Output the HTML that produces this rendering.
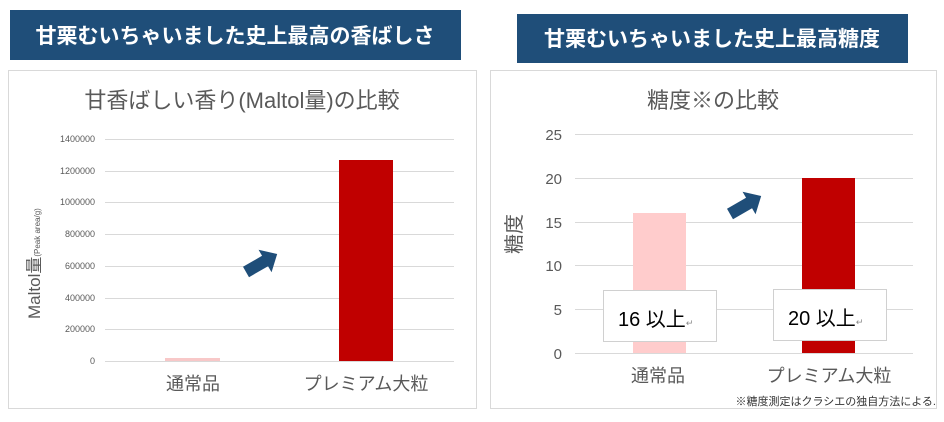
<!DOCTYPE html>
<html><head><meta charset="utf-8"><style>
body{margin:0;width:944px;height:417px;background:#fff;overflow:hidden;font-family:"Liberation Sans","Noto Sans CJK JP",sans-serif;}
</style></head><body>
<svg width="944" height="417" xmlns="http://www.w3.org/2000/svg" font-family="Liberation Sans, Noto Sans CJK JP, sans-serif">
<rect x="10" y="10" width="451" height="50" fill="#1f4e79"/>
<text x="235" y="43" font-size="21" fill="#fff" text-anchor="middle" font-weight="bold">甘栗むいちゃいました史上最高の香ばしさ</text>
<rect x="517" y="14" width="391" height="49" fill="#1f4e79"/>
<text x="712" y="46" font-size="21" fill="#fff" text-anchor="middle" font-weight="bold">甘栗むいちゃいました史上最高糖度</text>

<rect x="8.5" y="70.5" width="468" height="338" fill="#fff" stroke="#d9d9d9"/>
<rect x="490.5" y="70.5" width="446" height="338" fill="#fff" stroke="#d9d9d9"/>

<!-- left chart -->
<text x="242" y="108" font-size="22" fill="#595959" text-anchor="middle">甘香ばしい香り(Maltol量)の比較</text>
<g stroke="#d9d9d9" stroke-width="1">
<line x1="105" x2="454" y1="139.5" y2="139.5"/><line x1="105" x2="454" y1="171.5" y2="171.5"/>
<line x1="105" x2="454" y1="202.5" y2="202.5"/><line x1="105" x2="454" y1="234.5" y2="234.5"/>
<line x1="105" x2="454" y1="266.5" y2="266.5"/><line x1="105" x2="454" y1="298.5" y2="298.5"/>
<line x1="105" x2="454" y1="329.5" y2="329.5"/><line x1="105" x2="454" y1="361.5" y2="361.5"/>
</g>
<g font-size="9" fill="#595959" text-anchor="end">
<text x="95" y="142">1400000</text><text x="95" y="174">1200000</text><text x="95" y="205">1000000</text>
<text x="95" y="237">800000</text><text x="95" y="269">600000</text><text x="95" y="301">400000</text>
<text x="95" y="332">200000</text><text x="95" y="364">0</text></g>
<rect x="165" y="358" width="55" height="3" fill="#f8c8c8"/>
<rect x="339" y="160" width="54" height="201" fill="#c00000"/>
<text x="193" y="390" font-size="18" fill="#595959" text-anchor="middle">通常品</text>
<text x="366" y="390" font-size="18" fill="#595959" text-anchor="middle">プレミアム大粒</text>
<text transform="translate(40,319) rotate(-90)" font-size="17" fill="#595959">Maltol量<tspan font-size="8">(Peak area/g)</tspan></text>
<polygon points="0,-6 22,-6 22,-13 36,0 22,13 22,6 0,6" fill="#1f4e79" transform="translate(246,272) rotate(-30)"/>

<!-- right chart -->
<text x="713" y="108" font-size="22" fill="#595959" text-anchor="middle">糖度※の比較</text>
<g stroke="#d9d9d9" stroke-width="1">
<line x1="575" x2="913" y1="134.5" y2="134.5"/><line x1="575" x2="913" y1="178.5" y2="178.5"/>
<line x1="575" x2="913" y1="222.5" y2="222.5"/><line x1="575" x2="913" y1="265.5" y2="265.5"/>
<line x1="575" x2="913" y1="309.5" y2="309.5"/><line x1="575" x2="913" y1="353.5" y2="353.5"/>
</g>
<g font-size="15" fill="#595959" text-anchor="end">
<text x="562" y="140">25</text><text x="562" y="184">20</text><text x="562" y="228">15</text>
<text x="562" y="271">10</text><text x="562" y="315">5</text><text x="562" y="359">0</text></g>
<rect x="633" y="213" width="53" height="140" fill="#ffcccc"/>
<rect x="802" y="178" width="53" height="175" fill="#c00000"/>
<text x="658" y="382" font-size="18" fill="#595959" text-anchor="middle">通常品</text>
<text x="829" y="382" font-size="18" fill="#595959" text-anchor="middle">プレミアム大粒</text>
<text transform="translate(521,234) rotate(-90)" font-size="20" fill="#595959" text-anchor="middle">糖度</text>
<polygon points="0,-6 22,-6 22,-13 36,0 22,13 22,6 0,6" fill="#1f4e79" transform="translate(730,214) rotate(-30)"/>
<rect x="603.5" y="290.5" width="113" height="51" fill="#fff" stroke="#d0d0d0"/>
<text x="618" y="326" font-size="20" fill="#000">16 以上<tspan font-size="9" fill="#888">↵</tspan></text>
<rect x="773.5" y="289.5" width="113" height="51" fill="#fff" stroke="#d0d0d0"/>
<text x="788" y="325" font-size="20" fill="#000">20 以上<tspan font-size="9" fill="#888">↵</tspan></text>
<text x="936" y="405" font-size="11" fill="#333" text-anchor="end">※糖度測定はクラシエの独自方法による.</text>
</svg>
</body></html>
